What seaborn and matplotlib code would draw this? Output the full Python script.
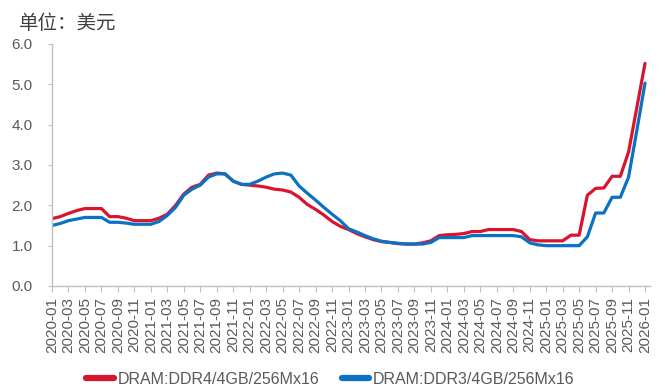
import matplotlib
matplotlib.use("Agg")
import matplotlib.pyplot as plt
import seaborn as sns
import pandas as pd
import numpy as np
from matplotlib.lines import Line2D

# Monthly contract prices, USD
months = pd.date_range("2020-01-01", "2026-01-01", freq="MS").strftime("%Y-%m").tolist()

ddr4 = [1.67, 1.72, 1.80, 1.87, 1.92, 1.92, 1.92, 1.72, 1.72, 1.68,
        1.62, 1.62, 1.62, 1.68, 1.78, 2.00, 2.28, 2.45, 2.52, 2.75,
        2.80, 2.78, 2.60, 2.52, 2.50, 2.48, 2.45, 2.40, 2.38, 2.33,
        2.20, 2.02, 1.90, 1.76, 1.60, 1.48, 1.40, 1.30, 1.22, 1.15,
        1.10, 1.08, 1.05, 1.04, 1.04, 1.07, 1.12, 1.25, 1.27, 1.28,
        1.30, 1.35, 1.35, 1.40, 1.40, 1.40, 1.40, 1.35, 1.15, 1.12,
        1.12, 1.12, 1.12, 1.26, 1.26, 2.25, 2.42, 2.43, 2.72, 2.72,
        3.32, 4.42, 5.52]

ddr3 = [1.50, 1.55, 1.62, 1.66, 1.70, 1.70, 1.70, 1.58, 1.58, 1.56,
        1.53, 1.53, 1.53, 1.60, 1.75, 1.95, 2.25, 2.40, 2.50, 2.70,
        2.78, 2.78, 2.60, 2.52, 2.52, 2.60, 2.70, 2.78, 2.80, 2.75,
        2.48, 2.30, 2.13, 1.95, 1.78, 1.62, 1.42, 1.34, 1.25, 1.17,
        1.11, 1.08, 1.06, 1.04, 1.04, 1.04, 1.08, 1.20, 1.20, 1.20,
        1.20, 1.25, 1.25, 1.25, 1.25, 1.25, 1.25, 1.22, 1.07, 1.02,
        1.00, 1.00, 1.00, 1.00, 1.00, 1.22, 1.81, 1.81, 2.20, 2.20,
        2.70, 3.85, 5.03]

series_names = ["DRAM:DDR4/4GB/256Mx16", "DRAM:DDR3/4GB/256Mx16"]
series_colors = ["#D9142E", "#0A72C2"]

y_ticks = [0.0, 1.0, 2.0, 3.0, 4.0, 5.0, 6.0]
unit_label = "单位：美元"

df = pd.DataFrame({
    "idx": list(range(len(months))) * 2,
    "price": ddr4 + ddr3,
    "series": [series_names[0]] * len(months) + [series_names[1]] * len(months),
})

sns.set_theme(style="white")
plt.rcParams["font.family"] = ["Liberation Sans", "Noto Sans CJK SC", "DejaVu Sans"]

fig = plt.figure(figsize=(6.65, 3.88), dpi=100)
ax = fig.add_axes([0.0782, 0.2629, 0.8992, 0.6237])

sns.lineplot(data=df, x="idx", y="price", hue="series", hue_order=series_names,
             palette=series_colors, linewidth=2.3, ax=ax, legend=False)
for line in ax.get_lines():
    line.set_solid_joinstyle("round")
    line.set_solid_capstyle("round")

ax.set_xlim(0, 72.6)
ax.set_ylim(0, 6)
ax.set_yticks(y_ticks)
ax.set_yticklabels([f"{v:.1f}" for v in y_ticks])
tick_idx = list(range(0, len(months), 2))
ax.set_xticks(tick_idx)
ax.set_xticklabels([months[i] for i in tick_idx], rotation=90, ha="center", va="top")
ax.set_xlabel("")
ax.set_ylabel("")

for side in ["top", "right"]:
    ax.spines[side].set_visible(False)
for side in ["left", "bottom"]:
    ax.spines[side].set_color("#BFBFBF")
    ax.spines[side].set_linewidth(1.0)

ax.tick_params(axis="y", which="major", left=True, length=3, width=0.8,
               color="#BFBFBF", labelsize=11, labelcolor="#595959", pad=11)
ax.tick_params(axis="x", which="major", bottom=True, length=4, width=0.8,
               color="#BFBFBF", labelsize=11, labelcolor="#595959", pad=4)

fig.text(0.028, 0.94, unit_label, fontsize=14, color="#404040",
         family=["Noto Sans CJK SC", "DejaVu Sans"], ha="left", va="center")

handles = [Line2D([0], [0], color=c, linewidth=4.5) for c in series_colors]
fig.legend(handles, series_names, loc="center", bbox_to_anchor=(0.497, 0.022),
           ncol=2, frameon=False, fontsize=11.5, handlelength=1.7,
           handletextpad=0.25, columnspacing=1.4, labelcolor="#595959")

fig.savefig("out.png", dpi=100)
